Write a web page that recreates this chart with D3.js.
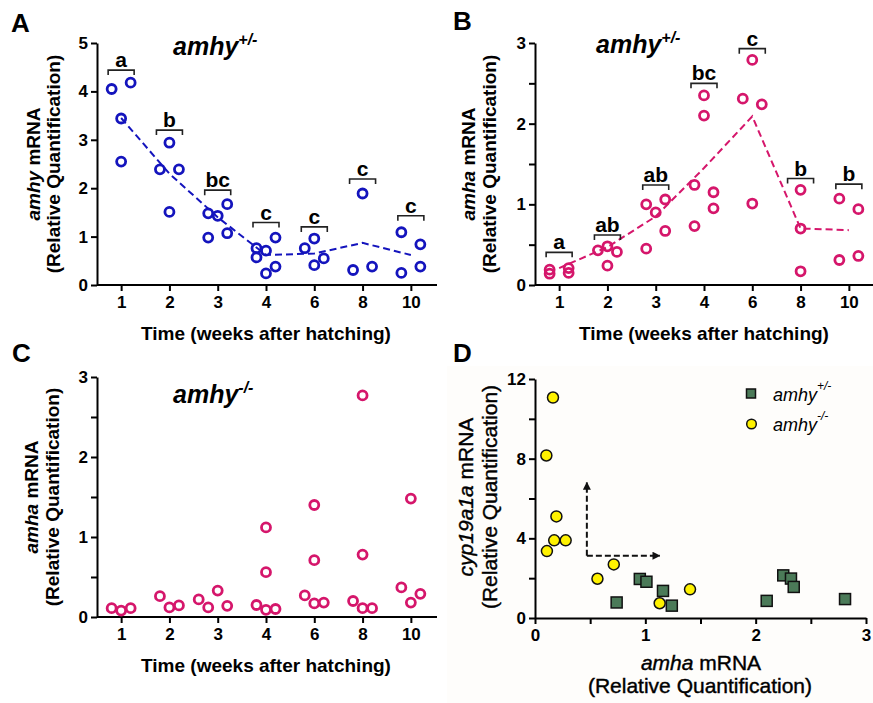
<!DOCTYPE html>
<html>
<head>
<meta charset="utf-8">
<script src="https://cdn.jsdelivr.net/npm/d3@7"></script>
<style>
body { margin: 0; background: #fff; }
svg text { font-family: "Liberation Sans", Arial, sans-serif; }
</style>
</head>
<body>
<div id="canvas"></div>
<script>
const weeks = ["1", "2", "3", "4", "6", "8", "10"];

// A: amhy mRNA, amhy+/- fish. each point is [value, jitter column]
const amhyHet = [
    [[4.05, -1], [4.18, 1], [3.44, 0], [2.55, 0]],
    [[2.94, 0], [2.39, -1], [2.39, 1], [1.51, 0]],
    [[1.48, -1], [1.43, 0], [1.67, 1], [0.98, -1], [1.07, 1]],
    [[0.76, -1], [0.71, 0], [0.98, 1], [0.57, -1], [0.38, 1], [0.24, 0]],
    [[0.76, -1], [0.96, 0], [0.55, 1], [0.41, 0]],
    [[1.89, 0], [0.31, -1], [0.38, 1]],
    [[1.09, -1], [0.84, 1], [0.25, -1], [0.38, 1]]
];
const amhyHetMean = [3.45, 2.3, 1.4, 0.62, 0.65, 0.87, 0.62];
const amhyHetLetters = ["a", "b", "bc", "c", "c", "c", "c"];
const amhyHetLetterY = [4.44, 3.2, 1.96, 1.29, 1.2, 2.19, 1.43];

// B: amha mRNA, amhy+/- fish
const amhaHet = [
    [[0.19, -1], [0.14, -1], [0.21, 1], [0.15, 1]],
    [[0.43, -1], [0.48, 0], [0.41, 1], [0.24, 0]],
    [[1.0, -1], [0.9, 0], [1.06, 1], [0.45, -1], [0.67, 1]],
    [[1.24, -1], [2.35, 0], [2.1, 0], [1.15, 1], [0.95, 1], [0.73, -1]],
    [[2.31, -1], [2.79, 0], [2.24, 1], [1.01, 0]],
    [[1.18, 0], [0.7, 0], [0.17, 0]],
    [[1.07, -1], [0.94, 1], [0.31, -1], [0.36, 1]]
];
const amhaHetMean = [0.21, 0.47, 0.85, 1.45, 2.09, 0.7, 0.68];
const amhaHetLetters = ["a", "ab", "ab", "bc", "c", "b", "b"];
const amhaHetLetterY = [0.405, 0.62, 1.24, 2.5, 2.93, 1.32, 1.25];

// C: amha mRNA, amhy-/- fish
const amhaKo = [
    [[0.11, -1], [0.08, 0], [0.11, 1]],
    [[0.26, -1], [0.12, 0], [0.145, 1]],
    [[0.22, -2], [0.12, -1], [0.33, 0], [0.14, 1]],
    [[1.12, 0], [0.56, 0], [0.15, -1], [0.09, 0], [0.1, 1]],
    [[1.4, 0], [0.71, 0], [0.27, -1], [0.17, 0], [0.18, 1]],
    [[2.77, 0], [0.78, 0], [0.2, -1], [0.11, 0], [0.11, 1]],
    [[1.48, 0], [0.37, -1], [0.18, 0], [0.29, 1]]
];

// D: cyp19a1a vs amha
const amhaHetD = [0.95, 0.74, 1.01, 1.16, 1.24, 2.1, 2.25, 2.32, 2.345, 2.81];
const cypHetD = [1.96, 0.78, 1.82, 1.36, 0.62, 0.86, 2.14, 1.98, 1.56, 0.95];
const amhaKoD = [0.163, 0.103, 0.194, 0.174, 0.278, 0.108, 0.566, 0.714, 1.13, 1.405];
const cypKoD = [11.07, 8.16, 5.1, 3.9, 3.9, 3.36, 1.97, 2.69, 0.74, 1.44];
const arrowCorner = [0.47, 3.13];
const arrowTop = 6.8;
const arrowRight = 1.13;

const BLUE = "#1414bd";
const PINK = "#d5166b";
const GREEN = "#4b7a58";
const YELLOW = "#fff200";

const svg = d3.select("#canvas")
    .append("svg")
    .attr("width", 873)
    .attr("height", 703);

svg.append("rect").attr("x", 447).attr("y", 366).attr("width", 426).attr("height", 337)
    .attr("fill", "#fefdfb");

function styleAxis(g, fontSize) {
    g.select(".domain").attr("stroke", "#000").attr("stroke-width", 2);
    g.selectAll(".tick line").attr("stroke", "#000").attr("stroke-width", 2);
    g.selectAll(".tick text")
        .attr("fill", "#000")
        .style("font-size", fontSize + "px")
        .style("font-weight", "bold");
}

function panelLetter(txt, x, y) {
    svg.append("text").attr("x", x).attr("y", y)
        .style("font-size", "26px").style("font-weight", "bold").text(txt);
}

// two-line rotated y title
function yTitle(cx1, cx2, cy, gene, bold, size) {
    let t1 = svg.append("text")
        .attr("transform", `translate(${cx1},${cy}) rotate(-90)`)
        .attr("text-anchor", "middle").attr("dominant-baseline", "central")
        .style("font-size", size + "px").style("font-weight", bold ? "bold" : "normal")
        .attr("stroke", bold ? "none" : "#000").attr("stroke-width", 0.4);
    t1.append("tspan").style("font-style", "italic").text(gene);
    t1.append("tspan").text(" mRNA");
    svg.append("text")
        .attr("transform", `translate(${cx2},${cy}) rotate(-90)`)
        .attr("text-anchor", "middle").attr("dominant-baseline", "central")
        .style("font-size", size + "px").style("font-weight", bold ? "bold" : "normal")
        .attr("stroke", bold ? "none" : "#000").attr("stroke-width", 0.4)
        .text("(Relative Quantification)");
}

function genoTitle(x, y, sup) {
    let t = svg.append("text").attr("x", x).attr("y", y)
        .style("font-size", "25px").style("font-weight", "bold").style("font-style", "italic");
    t.append("tspan").text("amhy");
    t.append("tspan").attr("dy", -10).style("font-size", "16px").text(sup);
}

function dotPanel(o) {
    const x = d3.scalePoint().domain(weeks).range([o.x0, o.x1]).padding(0.5);
    const y = d3.scaleLinear().domain([0, o.ymax]).range([o.yb, o.yt]);

    const gy = svg.append("g").attr("transform", `translate(${o.x0},0)`)
        .call(d3.axisLeft(y).tickValues(o.yticks).tickSize(6).tickSizeOuter(0).tickPadding(3)
            .tickFormat(d => Number.isInteger(d) ? d : ""));
    styleAxis(gy, 17);

    const gx = svg.append("g").attr("transform", `translate(0,${o.yb})`)
        .call(d3.axisBottom(x).tickSize(6).tickSizeOuter(0).tickPadding(5));
    styleAxis(gx, 17);
    gx.select(".domain").attr("d", `M${o.x0},0H${o.x1 + 2}`);

    const step = 9.5;

    if (o.mean) {
        const line = d3.line().x((d, i) => x(weeks[i])).y(d => y(d));
        svg.append("path").datum(o.mean)
            .attr("d", line)
            .attr("fill", "none").attr("stroke", o.color)
            .attr("stroke-width", 2).attr("stroke-dasharray", "7,4");
    }

    o.data.forEach((grp, i) => {
        svg.append("g").selectAll("circle").data(grp).join("circle")
            .attr("cx", d => x(weeks[i]) + d[1] * step)
            .attr("cy", d => y(d[0]))
            .attr("r", 4.5)
            .attr("fill", "none")
            .attr("stroke", o.color)
            .attr("stroke-width", 2.8);
    });

    if (o.letters) {
        o.letters.forEach((l, i) => {
            const cx = x(weeks[i]);
            const by = y(o.letterY[i]);
            svg.append("path")
                .attr("d", `M${cx - 13},${by + 5}V${by}H${cx + 13}V${by + 5}`)
                .attr("fill", "none").attr("stroke", "#222").attr("stroke-width", 1.6);
            svg.append("text").attr("x", cx).attr("y", by - 3)
                .attr("text-anchor", "middle")
                .style("font-size", "21px").style("font-weight", "bold")
                .text(l);
        });
    }

    svg.append("text").attr("x", (o.x0 + o.x1) / 2).attr("y", o.yb + 55)
        .attr("text-anchor", "middle")
        .style("font-size", "19px").style("font-weight", "bold")
        .text("Time (weeks after hatching)");
}

// Panel A
panelLetter("A", 11, 32);
genoTitle(173, 55, "+/-");
yTitle(33, 53, 164, "amhy", true, 19);
dotPanel({x0: 97, x1: 435, yt: 43, yb: 285, ymax: 5, yticks: [0, 1, 2, 3, 4, 5],
    data: amhyHet, mean: amhyHetMean, letters: amhyHetLetters, letterY: amhyHetLetterY, color: BLUE});

// Panel B
panelLetter("B", 453, 30);
genoTitle(596, 53, "+/-");
yTitle(468, 489, 164, "amha", true, 19);
dotPanel({x0: 535, x1: 873, yt: 43, yb: 285, ymax: 3, yticks: [0, 0.5, 1, 1.5, 2, 2.5, 3],
    data: amhaHet, mean: amhaHetMean, letters: amhaHetLetters, letterY: amhaHetLetterY, color: PINK});

// Panel C
panelLetter("C", 12, 362);
genoTitle(173, 403, "-/-");
yTitle(31, 52, 497, "amha", true, 19);
dotPanel({x0: 97, x1: 435, yt: 377, yb: 617, ymax: 3, yticks: [0, 0.5, 1, 1.5, 2, 2.5, 3],
    data: amhaKo, color: PINK});

// Panel D
panelLetter("D", 453, 362);
const xD = d3.scaleLinear().domain([0, 3]).range([535, 866]);
const yD = d3.scaleLinear().domain([0, 12]).range([618, 379]);

const gyD = svg.append("g").attr("transform", "translate(535,0)")
    .call(d3.axisLeft(yD).tickValues([0, 2, 4, 6, 8, 10, 12]).tickSize(6).tickSizeOuter(0).tickPadding(3)
        .tickFormat(d => d % 4 === 0 ? d : ""));
styleAxis(gyD, 17);
const gxD = svg.append("g").attr("transform", "translate(0,618)")
    .call(d3.axisBottom(xD).tickValues([0, 0.5, 1, 1.5, 2, 2.5, 3]).tickSize(6).tickSizeOuter(0).tickPadding(5)
        .tickFormat(d => Number.isInteger(d) ? d : ""));
styleAxis(gxD, 17);

yTitle(465, 489, 497, "cyp19a1a", false, 21);
let tx = svg.append("text").attr("x", 701).attr("y", 670).attr("text-anchor", "middle")
    .attr("stroke", "#000").attr("stroke-width", 0.4)
    .style("font-size", "21px");
tx.append("tspan").style("font-style", "italic").text("amha");
tx.append("tspan").text(" mRNA");
svg.append("text").attr("x", 700).attr("y", 693).attr("text-anchor", "middle")
    .attr("stroke", "#000").attr("stroke-width", 0.4)
    .style("font-size", "21px").text("(Relative Quantification)");

// dashed arrows
svg.append("defs").append("marker")
    .attr("id", "arr").attr("viewBox", "0 0 10 10").attr("refX", 9).attr("refY", 5)
    .attr("markerWidth", 4).attr("markerHeight", 4).attr("orient", "auto")
    .append("path").attr("d", "M0,0L10,5L0,10Z").attr("fill", "#111");
svg.append("path")
    .attr("d", `M${xD(arrowCorner[0])},${yD(arrowCorner[1])}V${yD(arrowTop)}`)
    .attr("stroke", "#111").attr("stroke-width", 2).attr("stroke-dasharray", "6,3")
    .attr("fill", "none").attr("marker-end", "url(#arr)");
svg.append("path")
    .attr("d", `M${xD(arrowCorner[0])},${yD(arrowCorner[1])}H${xD(arrowRight)}`)
    .attr("stroke", "#111").attr("stroke-width", 2).attr("stroke-dasharray", "6,3")
    .attr("fill", "none").attr("marker-end", "url(#arr)");

svg.append("g").selectAll("rect").data(amhaHetD).join("rect")
    .attr("x", (d, i) => xD(d) - 5.5)
    .attr("y", (d, i) => yD(cypHetD[i]) - 5.5)
    .attr("width", 11).attr("height", 11)
    .attr("fill", GREEN).attr("stroke", "#111").attr("stroke-width", 1.5);
svg.append("g").selectAll("circle").data(amhaKoD).join("circle")
    .attr("cx", d => xD(d))
    .attr("cy", (d, i) => yD(cypKoD[i]))
    .attr("r", 5.5)
    .attr("fill", YELLOW).attr("stroke", "#111").attr("stroke-width", 1.5);

// legend
svg.append("rect").attr("x", 746.5).attr("y", 389).attr("width", 9).attr("height", 9)
    .attr("fill", GREEN).attr("stroke", "#111").attr("stroke-width", 1.5);
svg.append("circle").attr("cx", 751.5).attr("cy", 424).attr("r", 4.8)
    .attr("fill", YELLOW).attr("stroke", "#111").attr("stroke-width", 1.5);
[["+/-", 401], ["-/-", 431]].forEach(function(l) {
    let t = svg.append("text").attr("x", 773).attr("y", l[1])
        .style("font-size", "18px").style("font-style", "italic");
    t.append("tspan").text("amhy");
    t.append("tspan").attr("dy", -11).style("font-size", "12px").text(l[0]);
});
</script>
</body>
</html>
